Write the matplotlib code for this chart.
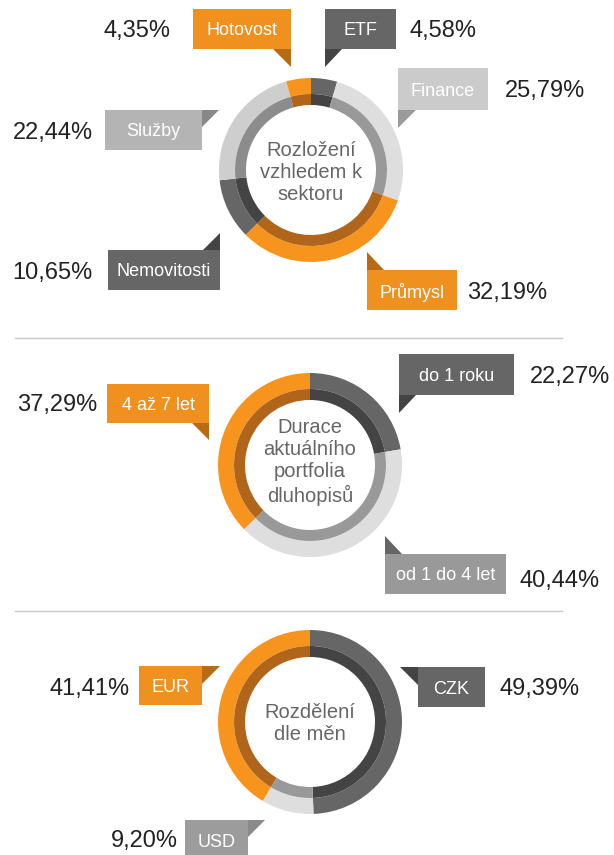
import matplotlib
matplotlib.use("Agg")
import matplotlib.pyplot as plt
from matplotlib.patches import Rectangle, Polygon

plt.rcParams["font.family"] = ["Liberation Sans", "DejaVu Sans"]

# data, listed clockwise from 12 o'clock
sector_labels = ["ETF", "Finance", "Průmysl", "Nemovitosti", "Služby", "Hotovost"]
sector_values = [4.58, 25.79, 32.19, 10.65, 22.44, 4.35]

duration_labels = ["do 1 roku", "od 1 do 4 let", "4 až 7 let"]
duration_values = [22.27, 40.44, 37.29]

currency_labels = ["CZK", "USD", "EUR"]
currency_values = [49.39, 9.20, 41.41]

W, H = 614, 855

ORANGE = ("#f7941d", "#b0651a", "#f0901e", "#b86a14")
DARK = ("#666666", "#444444", "#666666", "#444444")
LIGHT = ("#dedede", "#999999", "#cbcbcb", "#9a9a9a")
LIGHT2 = ("#cecece", "#8c8c8c", "#b4b4b4", "#888888")
MID = ("#dedede", "#999999", "#999999", "#666666")
USDC = ("#dedede", "#999999", "#9c9c9c", "#8a8a8a")


def Y(y):
    # layout is measured top-down in pixels
    return H - y


def fmt(v):
    return f"{v:.2f}".replace(".", ",") + "%"


charts = [
    dict(labels=sector_labels, values=sector_values, center=(311, 170),
         title="Rozložení\nvzhledem k\nsektoru", title_y=172,
         styles=[DARK, LIGHT, ORANGE, DARK, LIGHT2, ORANGE],
         boxes=[((325, 9, 396, 49), [(325, 49), (342, 49), (325, 67)], (410, 29, "left")),
                ((398, 68, 488, 110), [(398, 110), (416, 110), (398, 128)], (505, 89, "left")),
                ((367, 270, 457, 310), [(367, 252), (367, 270), (384, 270)], (467, 291, "left")),
                ((108, 250, 220, 290), [(203, 250), (220, 250), (220, 233)], (93, 270, "right")),
                ((105, 110, 202, 150), [(202, 110), (219, 110), (202, 127)], (93, 131, "right")),
                ((193, 9, 291, 49), [(273, 49), (291, 49), (291, 67)], (170, 29, "right"))]),
    dict(labels=duration_labels, values=duration_values, center=(310, 465),
         title="Durace\naktuálního\nportfolia\ndluhopisů", title_y=462,
         styles=[DARK, MID, ORANGE],
         boxes=[((399, 354, 514, 395), [(399, 395), (416, 395), (399, 413)], (530, 374, "left")),
                ((385, 554, 506, 594), [(385, 536), (385, 554), (402, 554)], (520, 578, "left")),
                ((107, 384, 209, 423), [(192, 423), (209, 423), (209, 440)], (97, 403, "right"))]),
    dict(labels=currency_labels, values=currency_values, center=(310, 722),
         title="Rozdělení\ndle měn", title_y=723,
         styles=[DARK, USDC, ORANGE],
         boxes=[((418, 667, 485, 707), [(400, 667), (418, 667), (418, 685)], (500, 686, "left")),
                ((185, 820, 248, 860), [(248, 820), (265, 820), (248, 837)], (178, 838, "right")),
                ((139, 666, 202, 705), [(202, 666), (220, 666), (202, 684)], (130, 686, "right"))]),
]

R_OUT, R_MID, R_IN = 92, 76, 65

fig = plt.figure(figsize=(W / 100, H / 100), dpi=100)
ax = fig.add_axes([0, 0, 1, 1])

for ch in charts:
    cx, cy = ch["center"]
    outer = [s[0] for s in ch["styles"]]
    inner = [s[1] for s in ch["styles"]]
    ax.pie(ch["values"], radius=R_OUT, center=(cx, Y(cy)), startangle=90,
           counterclock=False, colors=outer,
           wedgeprops=dict(width=R_OUT - R_MID, linewidth=0))
    ax.pie(ch["values"], radius=R_MID, center=(cx, Y(cy)), startangle=90,
           counterclock=False, colors=inner,
           wedgeprops=dict(width=R_MID - R_IN, linewidth=0))
    ax.text(cx, Y(ch["title_y"]), ch["title"], ha="center", va="center",
            fontsize=14.5, color="#666666", linespacing=1.2)

    for label, value, style, (box, tri, pct) in zip(
            ch["labels"], ch["values"], ch["styles"], ch["boxes"]):
        x0, y0, x1, y1 = box
        ax.add_patch(Rectangle((x0, Y(y1)), x1 - x0, y1 - y0,
                               facecolor=style[2], edgecolor="none"))
        ax.add_patch(Polygon([(x, Y(y)) for x, y in tri],
                             facecolor=style[3], edgecolor="none"))
        ax.text((x0 + x1) / 2, Y((y0 + y1) / 2), label, ha="center",
                va="center_baseline", fontsize=13, color="white")
        px, py, ha = pct
        ax.text(px, Y(py), fmt(value), ha=ha, va="center_baseline",
                fontsize=17, color="#222222")

for y in (338, 611):
    ax.plot([15, 562], [Y(y), Y(y)], color="#c8c8c8", lw=1)

ax.set_xlim(0, W)
ax.set_ylim(0, H)
ax.set_aspect("auto")
ax.axis("off")

fig.savefig("out.png", dpi=100)
